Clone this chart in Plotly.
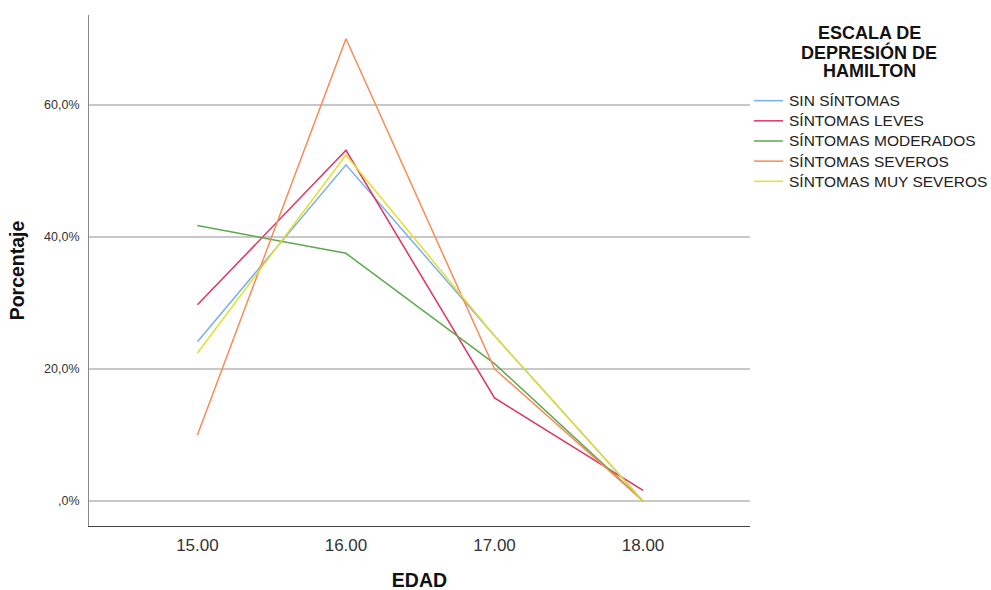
import plotly.graph_objects as go

edad = [15, 16, 17, 18]
x_ticks = [15, 16, 17, 18]
x_tick_labels = ["15.00", "16.00", "17.00", "18.00"]
y_ticks = [0, 20, 40, 60]
y_tick_labels = [",0%", "20,0%", "40,0%", "60,0%"]

series_names = ["SIN SÍNTOMAS", "SÍNTOMAS LEVES", "SÍNTOMAS MODERADOS",
                "SÍNTOMAS SEVEROS", "SÍNTOMAS MUY SEVEROS"]
sin_sintomas = [24.1, 50.9, 25.0, 0.0]
leves = [29.7, 53.1, 15.6, 1.6]
moderados = [41.7, 37.5, 20.8, 0.0]
severos = [10.0, 70.0, 20.0, 0.0]
muy_severos = [22.4, 52.4, 25.0, 0.0]
colors = ["#7aaef0", "#e0335f", "#5ea84f", "#fa8a57", "#e4df2c"]
legend_title_lines = ["ESCALA DE", "DEPRESIÓN DE", "HAMILTON"]

font = "Liberation Sans, Arial, sans-serif"
K = 599 / 590  # compensate observed vertical compression of the capture
W, H = 991, 599
L, R = 89, 241
T = 15 * K
B = H - 522 * K
PW, PH = W - L - R, H - T - B

def px(xp):
    return (xp - L) / PW

def py(yp):
    return (H - B - yp * K) / PH

fig = go.Figure()
for name, vals, c in zip(series_names, [sin_sintomas, leves, moderados, severos, muy_severos], colors):
    fig.add_trace(go.Scatter(x=edad, y=vals, mode="lines", name=name,
                             line=dict(color=c, width=1.5), showlegend=False))

fig.update_layout(
    width=W, height=H,
    margin=dict(l=L, r=R, t=T, b=B),
    plot_bgcolor="white", paper_bgcolor="white",
    font=dict(family=font, color="#222"),
    xaxis=dict(range=[14.27, 18.72], tickvals=x_ticks, ticktext=x_tick_labels,
               showgrid=False, zeroline=False, showline=True, linecolor="#444", linewidth=1,
               ticks="", ticklabelstandoff=4, tickfont=dict(size=17, color="#333"),
               title=dict(text="<b>EDAD</b>", font=dict(size=19.5, color="#111"), standoff=18)),
    yaxis=dict(range=[-3.8, 73.6], tickvals=y_ticks, ticktext=y_tick_labels,
               showgrid=True, gridcolor="#c8c8c8", gridwidth=1.5, zeroline=False,
               showline=True, linecolor="#888", linewidth=1, ticks="", ticklabelstandoff=6,
               tickfont=dict(size=12.5, color="#333"),
               title=dict(text="<b>Porcentaje</b>", font=dict(size=19.5, color="#111"), standoff=14)),
)
for i, line in enumerate(legend_title_lines):
    fig.add_annotation(xref="paper", yref="paper", x=px(869), y=py(33 + 19 * i),
                       xanchor="center", yanchor="middle", text="<b>" + line + "</b>",
                       showarrow=False, font=dict(size=18, family=font, color="#111"))
for i, (name, c) in enumerate(zip(series_names, colors)):
    yy = 100 + 20 * i
    fig.add_shape(type="line", xref="paper", yref="paper",
                  x0=px(754), x1=px(783), y0=py(yy), y1=py(yy),
                  line=dict(color=c, width=1.5))
    fig.add_annotation(xref="paper", yref="paper", x=px(787), y=py(yy),
                       xanchor="left", yanchor="middle", text=name, showarrow=False,
                       font=dict(size=15.5, family=font, color="#222"))
fig.write_html("out.html", config={"displayModeBar": False},
               post_script=("var s='margin:0;padding:0;overflow:hidden;';"
                            "document.documentElement.style.cssText=s;"
                            "document.body.style.cssText=s;"))
